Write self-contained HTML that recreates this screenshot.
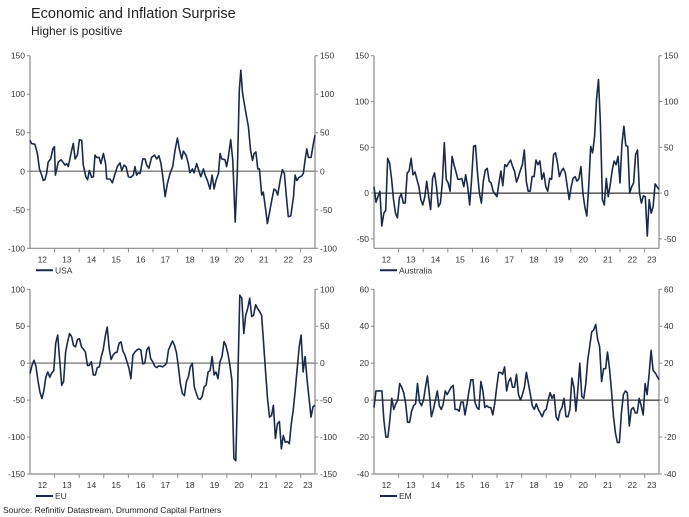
<!DOCTYPE html>
<html><head><meta charset="utf-8">
<style>
html,body{margin:0;padding:0;background:#fff;}
svg{display:block;font-family:"Liberation Sans",Arial,sans-serif;}
</style></head>
<body>
<svg id="chart" width="689" height="517" viewBox="0 0 689 517" xmlns="http://www.w3.org/2000/svg">
<text x="31" y="18" font-size="14.5" fill="#222">Economic and Inflation Surprise</text>
<text x="31" y="35" font-size="12" fill="#222">Higher is positive</text>
<text x="3" y="513" font-size="8.5" fill="#222">Source: Refinitiv Datastream, Drummond Capital Partners</text>
</svg>
<script>
const yearLabels = ['12','13','14','15','16','17','18','19','20','21','22','23'];
const totalMonths = 139;

const usaMonths = [0,0.8,2.4,3.6,4.6,5.7,6.5,7.3,8.1,8.9,10.1,11.1,11.9,12.4,13.8,15.1,17.1,17.9,18.7,20.3,21.1,22,23.1,24.1,25.2,26,27.2,28.1,28.9,30.1,30.9,31.7,32.5,33.7,34.6,35.8,36.9,37.4,39,40.2,41.5,42.6,43.9,44.7,45.9,46.8,48,49.1,50.4,51.2,52,52.8,53.7,55,56.1,56.9,58,59.3,60.7,61.8,62.9,63.9,65,65.9,67,68.3,69.6,70.7,71.9,72.8,74,74.8,76.1,77.2,78,79.2,80,81.3,82.1,83.3,84.6,85.4,86.5,87.8,88.8,89.8,90.7,91.9,92.7,93.5,95.1,95.9,96.7,97.9,98.9,100.1,101.1,102.1,102.8,103.7,105.2,106.5,107.6,108.5,109.3,110.2,111.1,111.9,113,113.8,115,115.8,116.7,117.9,119,120,120.8,122,123.1,124.1,124.9,126,127.2,128.5,129.3,130.1,131.2,132.5,133.3,134.1,135,135.8,137.1,138.2,139];
const usaValues = [40,36,35,23,3,-5,-12,-11,-3,12,16,29,32,-5,12,15,8,10,6,27,36,16,21,41,40,8,-7,-11,1,-8,-7,21,18,18,10,23,9,-10,-10,-15,-3,6,11,1,8,6,-7,-8,-5,6,-5,-2,-3,16,16,8,4,18,21,16,20,10,-12,-33,-16,-3,6,27,43,29,16,26,21,10,-2,3,-2,10,3,-7,3,-5,-12,-23,-5,-23,-12,-3,23,16,15,6,18,41,14,-66,-3,105,131,101,77,58,27,14,23,25,3,3,-31,-27,-51,-68,-55,-38,-23,-25,-31,-12,2,-3,-29,-59,-58,-33,-5,-12,-8,-6,-3,14,29,18,18,36,47];

const ausValues = [7,-10,-4,2,-36,-22,-19,38,33,15,-7,-22,-27,-5,-1,-11,-11,22,24,38,20,23,15,7,-7,-13,-4,13,-4,-18,16,22,7,-15,-11,11,55,15,11,2,40,31,23,15,15,16,7,20,7,-13,15,51,52,22,0,-11,13,25,27,13,11,2,-1,-4,11,24,8,31,29,33,36,29,24,12,18,25,31,47,13,2,2,18,18,36,31,35,15,22,7,2,16,15,42,44,33,18,24,27,22,7,-7,7,16,18,13,16,29,0,-15,-25,7,51,44,62,102,124,76,-7,-13,16,-4,9,25,35,31,40,11,53,73,52,51,0,7,11,42,47,0,-11,-3,-4,-47,-7,-22,-15,10,7,4];

const euValues = [-14,-3,4,-4,-23,-39,-48,-37,-19,-12,-19,-13,-10,27,38,4,-30,-25,15,29,40,36,24,22,32,33,22,19,15,-3,-3,2,-16,-16,-6,-5,9,18,36,49,20,5,11,14,15,27,29,16,11,2,-7,-21,11,15,18,19,18,-1,0,18,22,6,2,-4,-6,-4,-4,-5,-3,0,18,24,30,24,14,-5,-28,-41,-44,-25,-19,-5,0,-32,-41,-48,-49,-45,-32,-30,-12,-10,9,-16,-12,-21,2,9,29,24,13,-3,-23,-129,-132,-23,92,88,40,65,74,88,63,65,79,74,70,65,29,-10,-48,-73,-71,-57,-102,-82,-79,-116,-98,-107,-106,-109,-82,-64,-37,-7,22,38,-12,9,-23,-48,-73,-59,-57];

const emValues = [-4,5,5,5,5,-11,-20,-20,-11,1,-5,-2,0,9,7,4,-2,-12,-12,-6,-3,-2,9,-1,-3,0,7,13,3,-9,-5,0,5,-3,-5,-2,5,3,5,7,8,-5,-5,-6,-1,-1,-8,-2,5,11,11,-1,-4,-5,10,5,-4,-3,-4,-4,-8,-2,7,15,15,14,18,5,10,12,7,7,14,3,0,3,7,15,9,3,-3,-5,-2,-5,-7,-9,-6,-5,0,4,1,3,-9,-11,-6,-4,1,-9,-9,-5,12,7,-6,6,20,2,1,9,22,29,37,38,41,33,29,10,17,17,26,17,5,-9,-18,-23,-23,-7,3,5,4,-14,-5,-4,-7,-7,1,-3,-8,9,3,14,27,16,15,13,11];

const usaTicks = [150,100,50,0,-50,-100];
const ausTicks = [150,100,50,0,-50];
const euTicks = [100,50,0,-50,-100,-150];
const emTicks = [60,40,20,0,-20,-40];

const NS='http://www.w3.org/2000/svg';
const svg=document.getElementById('chart');
function mk(tag,attrs,parent){const e=document.createElementNS(NS,tag);for(const k in attrs)e.setAttribute(k,attrs[k]);(parent||svg).appendChild(e);return e;}

function uniformMonths(n){const a=[];for(let i=0;i<n;i++)a.push(i*totalMonths/(n-1));return a;}

function panel(key,label,months,values,ticks,box,zeroColor,legendX){
  const g=mk('g',{});
  
  
  const xs=m=>box.l+m*(box.r-box.l)/totalMonths;
  const ys=v=>box.t+(box.max-v)*(box.b-box.t)/(box.max-box.min);
  // axes
  const la=mk('line',{x1:box.l,y1:box.t,x2:box.l,y2:box.b,stroke:'#8a8a8a','stroke-width':1.2},g);
  
  
  const ra=mk('line',{x1:box.r,y1:box.t,x2:box.r,y2:box.b,stroke:'#8a8a8a','stroke-width':1.2},g);
  
  
  const ba=mk('line',{x1:box.l,y1:box.b,x2:box.r,y2:box.b,stroke:'#8a8a8a','stroke-width':1.2},g);
  
  
  ticks.forEach(v=>{
    const y=ys(v);
    mk('line',{x1:box.l-3,y1:y,x2:box.l,y2:y,stroke:'#8a8a8a'},g);
    mk('line',{x1:box.r,y1:y,x2:box.r+3,y2:y,stroke:'#8a8a8a'},g);
    const t1=mk('text',{x:box.l-5,y:y+3,'font-size':8.5,'text-anchor':'end',fill:'#333'},g);
    t1.textContent=v;
    
    
    const t2=mk('text',{x:box.r+5,y:y+3,'font-size':8.5,'text-anchor':'start',fill:'#333'},g);
    t2.textContent=v;
    
    
  });
  yearLabels.forEach((lab,i)=>{
    const x0=xs(i*12);
    if(i>0) mk('line',{x1:x0,y1:box.b,x2:x0,y2:box.b+4,stroke:'#8a8a8a'},g);
    const end=Math.min((i+1)*12,totalMonths);
    const t=mk('text',{x:xs((i*12+end)/2),y:box.b+14,'font-size':8.5,'text-anchor':'middle',fill:'#333'},g);
    t.textContent=lab;
    
    
  });
  const z=mk('line',{x1:box.l,y1:ys(0),x2:box.r,y2:ys(0),stroke:zeroColor,'stroke-width':zeroColor==='#000'?1:1.5},g);
  
  
  const pts=values.map((v,i)=>xs(months[i]).toFixed(1)+','+ys(v).toFixed(1)).join(' ');
  const pl=mk('polyline',{points:pts,fill:'none',stroke:'#1b2a4a','stroke-width':1.6,'stroke-linejoin':'round'},g);
  
  
  const ly=box.b+22;
  const ll=mk('line',{x1:legendX,y1:ly,x2:legendX+17,y2:ly,stroke:'#1b2a4a','stroke-width':2},g);
  
  
  const lt=mk('text',{x:legendX+19,y:ly+3,'font-size':8.5,fill:'#333'},g);
  lt.textContent=label;
  
  
}

panel('usa','USA',usaMonths,usaValues,usaTicks,{l:30,r:315,t:55.7,b:248.3,max:150,min:-100},'#8a8a8a',36);
panel('australia','Australia',uniformMonths(ausValues.length),ausValues,ausTicks,{l:374,r:659,t:55.7,b:248.3,max:150,min:-60.3},'#000',380);
panel('eu','EU',uniformMonths(euValues.length),euValues,euTicks,{l:30,r:315,t:289.3,b:474,max:100,min:-150},'#8a8a8a',36);
panel('em','EM',uniformMonths(emValues.length),emValues,emTicks,{l:374,r:659,t:289.3,b:474,max:60,min:-40},'#000',380);
</script>
</body></html>
